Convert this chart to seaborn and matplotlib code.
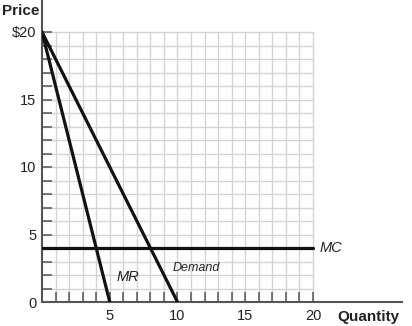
import matplotlib
matplotlib.use("Agg")
import matplotlib.pyplot as plt
import seaborn as sns
import pandas as pd

# Data
demand_q = [0, 10]
demand_p = [20, 0]
mr_q = [0, 5]
mr_p = [20, 0]
mc_q = [0, 20]
mc_p = [4, 4]
major_ticks = [0, 5, 10, 15, 20]
x_tick_labels = ["", "5", "10", "15", "20"]
y_tick_labels = ["0", "5", "10", "15", "$20"]

sns.set_theme(style="white")
plt.rcParams['font.family'] = ['Liberation Sans', 'DejaVu Sans']

fig = plt.figure(figsize=(4.12, 3.26), dpi=100)
ax = fig.add_axes([42/412, 24/326, (402-42)/412, 302/326])

xscale = (313 - 42) / 20.0
yscale = (302 - 32) / 20.0
xmax = (402 - 42) / xscale
ymax = 302 / yscale

# grid within 0..20
for v in range(1, 21):
    ax.plot([v, v], [0, 20], color="#d4d4d4", lw=1.0, zorder=0)
    ax.plot([0, 20], [v, v], color="#d4d4d4", lw=1.0, zorder=0)

df = pd.concat([
    pd.DataFrame({"q": demand_q, "p": demand_p, "curve": "Demand"}),
    pd.DataFrame({"q": mr_q, "p": mr_p, "curve": "MR"}),
    pd.DataFrame({"q": mc_q, "p": mc_p, "curve": "MC"}),
])
sns.lineplot(data=df, x="q", y="p", hue="curve", estimator=None, sort=False,
             palette={"Demand": "#111111", "MR": "#111111", "MC": "#111111"},
             linewidth=2.3, legend=False, ax=ax, zorder=3)

ax.text(20.45, 4.0, "MC", style="italic", fontsize=10.5, va="center", ha="left", color="#222222")
ax.text(5.5, 1.85, "MR", style="italic", fontsize=10.5, va="center", ha="left", color="#222222")
ax.text(9.67, 2.5, "Demand", style="italic", fontsize=9, va="center", ha="left", color="#222222")

ax.set_xlim(0, xmax)
ax.set_ylim(0, ymax)
ax.set_xticks(major_ticks)
ax.set_xticklabels(x_tick_labels)
ax.set_yticks(major_ticks)
ax.set_yticklabels(y_tick_labels)
ax.set_xticks(range(1, 21), minor=True)
ax.set_yticks(range(1, 21), minor=True)
ax.tick_params(axis="both", which="both", direction="in", length=7.5, width=1.1,
               color="#555555", labelsize=10.5, labelcolor="#222222")
ax.tick_params(axis="y", which="major", pad=4)
ax.tick_params(axis="x", which="major", pad=5)
ax.tick_params(axis="x", which="both", bottom=True)
ax.tick_params(axis="y", which="both", left=True)
ax.set_xlabel("")
ax.set_ylabel("")
for s in ["top", "right"]:
    ax.spines[s].set_visible(False)
for s in ["left", "bottom"]:
    ax.spines[s].set_color("#555555")
    ax.spines[s].set_linewidth(1.5)

fig.text(2/412, 1 - 11/326, "Price", fontsize=11, fontweight="bold", va="center", ha="left", color="#222222")
fig.text(337/412, 1 - 317/326, "Quantity", fontsize=11, fontweight="bold", va="center", ha="left", color="#222222")

fig.savefig("out.png", dpi=100)
